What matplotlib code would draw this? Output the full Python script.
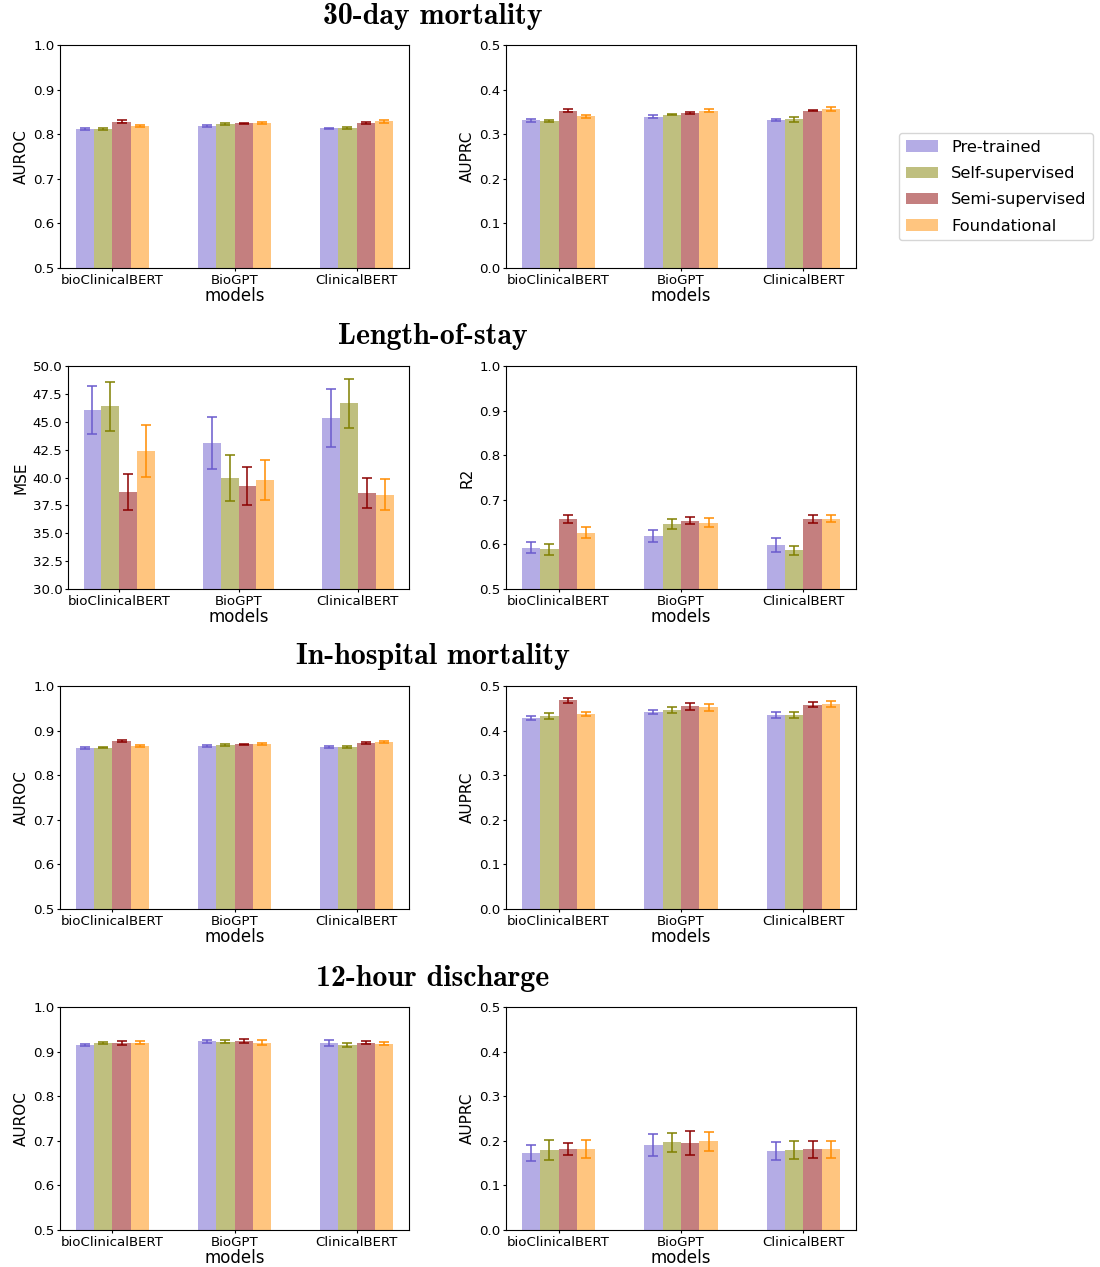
import matplotlib
matplotlib.use('Agg')
import matplotlib.pyplot as plt
import numpy as np

models = ['bioClinicalBERT', 'BioGPT', 'ClinicalBERT']
methods = ['Pre-trained', 'Self-supervised', 'Semi-supervised', 'Foundational']
bar_colors = ['slateblue', 'olive', 'darkred', 'darkorange']

# values[method][model], errors likewise
mort30_auroc = [[0.812, 0.819, 0.813], [0.812, 0.822, 0.814], [0.828, 0.824, 0.825], [0.818, 0.825, 0.829]]
mort30_auroc_err = [[0.002, 0.002, 0.002], [0.002, 0.002, 0.003], [0.003, 0.002, 0.002], [0.002, 0.002, 0.003]]
mort30_auprc = [[0.331, 0.339, 0.332], [0.330, 0.344, 0.333], [0.353, 0.348, 0.353], [0.340, 0.353, 0.356]]
mort30_auprc_err = [[0.003, 0.003, 0.003], [0.002, 0.002, 0.005], [0.003, 0.002, 0.002], [0.004, 0.003, 0.005]]

los_mse = [[46.05, 43.10, 45.34], [46.38, 39.96, 46.65], [38.70, 39.24, 38.58], [42.38, 39.78, 38.46]]
los_mse_err = [[2.15, 2.35, 2.56], [2.20, 2.10, 2.20], [1.65, 1.70, 1.35], [2.30, 1.80, 1.37]]
los_r2 = [[0.593, 0.619, 0.599], [0.589, 0.646, 0.587], [0.657, 0.653, 0.657], [0.626, 0.649, 0.658]]
los_r2_err = [[0.012, 0.014, 0.015], [0.013, 0.012, 0.010], [0.010, 0.008, 0.008], [0.012, 0.010, 0.007]]

ihm_auroc = [[0.861, 0.865, 0.863], [0.862, 0.867, 0.863], [0.876, 0.869, 0.872], [0.865, 0.870, 0.875]]
ihm_auroc_err = [[0.002, 0.002, 0.002], [0.002, 0.002, 0.002], [0.002, 0.002, 0.002], [0.002, 0.002, 0.002]]
ihm_auprc = [[0.428, 0.442, 0.435], [0.433, 0.446, 0.435], [0.468, 0.455, 0.458], [0.437, 0.452, 0.460]]
ihm_auprc_err = [[0.005, 0.005, 0.006], [0.006, 0.007, 0.006], [0.006, 0.008, 0.006], [0.005, 0.007, 0.006]]

dis_auroc = [[0.915, 0.923, 0.919], [0.919, 0.922, 0.915], [0.919, 0.924, 0.920], [0.920, 0.920, 0.918]]
dis_auroc_err = [[0.003, 0.003, 0.006], [0.003, 0.003, 0.004], [0.004, 0.004, 0.003], [0.003, 0.005, 0.004]]
dis_auprc = [[0.172, 0.190, 0.178], [0.180, 0.197, 0.180], [0.182, 0.196, 0.181], [0.182, 0.199, 0.181]]
dis_auprc_err = [[0.018, 0.025, 0.020], [0.022, 0.021, 0.020], [0.013, 0.027, 0.019], [0.020, 0.021, 0.019]]

tasks = ['30-day mortality', 'Length-of-stay', 'In-hospital mortality', '12-hour discharge']
panels = [
    [('AUROC', mort30_auroc, mort30_auroc_err, (0.5, 1.0), np.arange(0.5, 1.01, 0.1)),
     ('AUPRC', mort30_auprc, mort30_auprc_err, (0.0, 0.5), np.arange(0.0, 0.51, 0.1))],
    [('MSE', los_mse, los_mse_err, (30, 50), np.arange(30, 50.1, 2.5)),
     ('R2', los_r2, los_r2_err, (0.5, 1.0), np.arange(0.5, 1.01, 0.1))],
    [('AUROC', ihm_auroc, ihm_auroc_err, (0.5, 1.0), np.arange(0.5, 1.01, 0.1)),
     ('AUPRC', ihm_auprc, ihm_auprc_err, (0.0, 0.5), np.arange(0.0, 0.51, 0.1))],
    [('AUROC', dis_auroc, dis_auroc_err, (0.5, 1.0), np.arange(0.5, 1.01, 0.1)),
     ('AUPRC', dis_auprc, dis_auprc_err, (0.0, 0.5), np.arange(0.0, 0.51, 0.1))],
]

W, H = 1100, 1267
fig = plt.figure(figsize=(W / 100, H / 100), dpi=100)

row_tops = [45, 366, 686, 1007]
# (left, right) pixel edges of each axes, per row and column
col_edges = [[(60, 409), (506, 856)],
             [(68, 409), (506, 856)],
             [(60, 409), (506, 856)],
             [(60, 409), (506, 856)]]
ax_h = 223
width = 0.15
x = np.arange(len(models))

for r, row in enumerate(panels):
    fig.text(433 / W, 1 - (row_tops[r] - 29) / H, tasks[r], ha='center', va='center',
             fontname='cmb10', fontsize=21.5)
    for c, (ylabel, vals, errs, ylim, yticks) in enumerate(row):
        x0, x1 = col_edges[r][c]
        ax = fig.add_axes([x0 / W, 1 - (row_tops[r] + ax_h) / H, (x1 - x0) / W, ax_h / H])
        for i, m in enumerate(methods):
            ax.bar(x + (i - 1.5) * width, vals[i], width, yerr=errs[i], color=bar_colors[i],
                   alpha=0.5, ecolor=bar_colors[i], capsize=3.5, label=m,
                   error_kw={'elinewidth': 1.1, 'capthick': 1.1})
        ax.set_xticks(x)
        ax.set_xticklabels(models, fontsize=9.6)
        ax.set_ylim(*ylim)
        ax.set_yticks(yticks)
        ax.tick_params(axis='both', labelsize=9.6, length=2.5, pad=1.5)
        ax.set_ylabel(ylabel, fontsize=11, labelpad=3)
        ax.set_xlabel('models', fontsize=12, labelpad=0)

handles, labels = ax.get_legend_handles_labels()
fig.legend(handles, labels, loc='upper left', bbox_to_anchor=(899 / W, 1 - 133 / H),
           borderaxespad=0, fontsize=11.7, labelspacing=0.7)
fig.savefig('out.png', dpi=100)
